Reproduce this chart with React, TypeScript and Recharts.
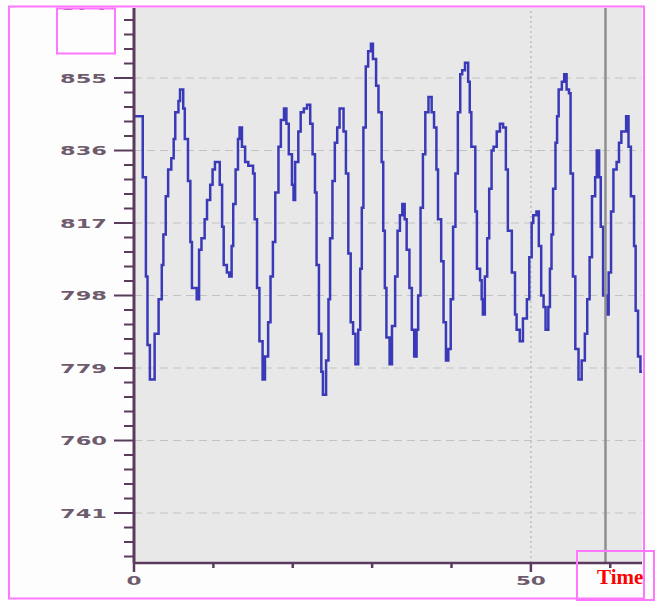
import React from "react";
import { LineChart, Line, XAxis, YAxis, CartesianGrid, ReferenceLine } from "recharts";

// sample times (x) and signal readings (y)
const time = [
  0, 1.1, 1.5, 1.7, 2.0, 2.6, 3.1, 3.5, 3.7, 4.0, 4.3, 4.7, 5.0, 5.2, 5.6, 5.8, 6.2, 6.4, 6.8, 7.1,
  7.3, 7.9, 8.2, 8.5, 8.9, 9.2, 9.6, 9.9, 10.2, 10.8, 11.1, 11.3, 11.7, 12.0, 12.3, 12.5, 12.8, 13.1, 13.3, 13.6,
  14.0, 14.4, 15.0, 15.2, 15.5, 15.8, 16.2, 16.5, 16.9, 17.2, 17.5, 17.8, 18.2, 18.5, 18.9, 19.2, 19.5, 19.9, 20.1, 20.3,
  20.7, 21.0, 21.4, 21.8, 22.2, 22.5, 22.8, 23.0, 23.3, 23.6, 23.8, 24.2, 24.5, 24.7, 25.0, 25.3, 25.6, 25.9, 26.4, 26.7,
  27.0, 27.3, 27.6, 27.9, 28.25, 28.5, 28.7, 28.9, 29.2, 29.5, 29.85, 30.1, 30.5, 30.8, 31.2, 31.4, 31.6, 31.8, 32.2, 32.5,
  32.9, 33.2, 33.5, 33.8, 34.1, 34.35, 34.7, 35.0, 35.3, 35.6, 35.8, 36.1, 36.4, 36.7, 37.1, 37.5, 37.8, 38.1, 38.3, 38.7,
  39.0, 39.3, 39.6, 39.9, 40.2, 40.5, 40.8, 41.1, 41.35, 41.7, 42.1, 42.3, 42.5, 43.0, 43.2, 43.6, 43.8, 43.95, 44.2, 44.5,
  44.75, 45.05, 45.3, 45.7, 46.1, 46.5, 46.85, 47.1, 47.6, 48.0, 48.2, 48.6, 49.0, 49.5, 49.8, 50.1, 50.3, 50.7, 51.0, 51.3,
  51.6, 51.85, 52.2, 52.4, 52.6, 52.8, 53.1, 53.3, 53.5, 53.9, 54.2, 54.5, 54.8, 55.0, 55.3, 55.6, 56.0, 56.4, 56.8, 57.1,
  57.4, 57.7, 58.1, 58.3, 58.6, 58.8, 59.1, 59.5, 59.8, 60.1, 60.4, 60.8, 61.1, 61.4, 62.0, 62.3, 62.6, 63.0, 63.2, 63.5,
  63.8, 64.0,
];

const signal = [
  845, 829, 803, 785, 776, 788, 797, 806, 814, 824, 831, 834, 839, 846, 849, 852, 847, 839, 828, 812,
  800, 797, 810, 813, 818, 823, 827, 831, 833, 827, 816, 806, 804, 803, 811, 822, 831, 839, 842, 837,
  833, 832, 830, 818, 800, 786, 776, 782, 791, 803, 812, 825, 837, 844, 847, 843, 835, 827, 823, 833,
  841, 846, 847, 848, 843, 835, 825, 806, 788, 778, 772, 781, 797, 813, 828, 838, 842, 847, 841, 830,
  809, 791, 788, 780, 789, 805, 821, 842, 858, 862, 864, 860, 853, 846, 833, 815, 800, 787, 780, 790,
  803, 815, 819, 822, 818, 810, 800, 789, 782, 789, 798, 821, 835, 846, 850, 846, 842, 831, 818, 807,
  791, 781, 784, 797, 816, 830, 846, 856, 857, 859, 854, 846, 837, 820, 805, 802, 797, 793, 803, 813,
  826, 836, 837, 841, 843, 842, 831, 815, 804, 793, 789, 786, 792, 797, 808, 817, 819, 820, 811, 798,
  795, 789, 795, 805, 814, 826, 838, 845, 852, 854, 856, 852, 851, 830, 803, 784, 776, 781, 788, 797,
  808, 824, 829, 836, 829, 816, 798, 793, 804, 820, 831, 833, 838, 841, 845, 837, 824, 811, 794, 782,
  778, 778,
];

const yMajorTicks = [741, 760, 779, 798, 817, 836, 855, 874];
const xTicks = [0, 10, 20, 30, 40, 50, 60];
const xLabelTicks = [0, 50];
const cursorTime = 59.4;

const Y_MIN = 727.9;
const Y_MAX = 874;

const data = time.map((t, i) => ({ t, v: signal[i] }));

// minor ticks: 5 per major step
const yTicks = [...yMajorTicks, 737.2, 733.4, 729.6]
  .flatMap((m) => (m > 741 ? [0, 1, 2, 3, 4].map((k) => +(m - k * 3.8).toFixed(1)) : [m]))
  .filter((v, i, arr) => arr.indexOf(v) === i && v >= Y_MIN);

const AXIS = "#5b3b5d";
const LABEL = "#6e5c6e";

function YTick(props: any) {
  const { x, y, payload } = props;
  const major = yMajorTicks.includes(payload.value);
  return (
    <g>
      <line x1={x - (major ? 20 : 10)} x2={x} y1={y} y2={y} stroke={AXIS} strokeWidth={2} />
      {major && (
        <text
          x={x - 74}
          y={y}
          dy={4.5}
          textLength={47}
          lengthAdjust="spacingAndGlyphs"
          fill={LABEL}
          fontSize={12.5}
          fontWeight="bold"
          fontFamily="DejaVu Sans"
        >
          {payload.value}
        </text>
      )}
    </g>
  );
}

function XTick(props: any) {
  const { x, y, payload } = props;
  const major = xLabelTicks.includes(payload.value);
  const label = String(payload.value);
  const w = label.length * 15;
  return (
    <g>
      <line x1={x} x2={x} y1={y} y2={y + (major ? 9 : 5)} stroke={AXIS} strokeWidth={2.5} />
      {major && (
        <text
          x={x - w / 2}
          y={y + 22}
          textLength={w}
          lengthAdjust="spacingAndGlyphs"
          fill={LABEL}
          fontSize={12}
          fontWeight="bold"
          fontFamily="DejaVu Sans"
        >
          {label}
        </text>
      )}
    </g>
  );
}

export default function App() {
  return (
    <div
      style={{
        position: "absolute",
        left: 0,
        top: 0,
        width: 655,
        height: 601,
        overflow: "hidden",
        background: "#fdfdfd",
      }}
    >
      <div style={{ position: "absolute", left: 0, top: 8, width: 655, height: 593, overflow: "hidden" }}>
        <div style={{ position: "absolute", left: 0, top: -8 }}>
          <LineChart width={655} height={601} data={data} margin={{ top: 5.5, right: 13, bottom: 8, left: 0 }}>
            <CartesianGrid
              fill="#e8e8e8"
              vertical={false}
              horizontalValues={yMajorTicks.filter((v) => v < Y_MAX)}
              stroke="#c2c2c2"
              strokeDasharray="8 5"
            />
            <ReferenceLine x={50} stroke="#bcbcbc" strokeWidth={1.5} strokeDasharray="2 3" />
            <XAxis
              dataKey="t"
              type="number"
              domain={[0, 64]}
              allowDataOverflow
              ticks={xTicks}
              interval={0}
              height={30}
              tickSize={0}
              tickMargin={0}
              tickLine={false}
              axisLine={{ stroke: AXIS, strokeWidth: 2.5 }}
              tick={<XTick />}
            />
            <YAxis
              type="number"
              domain={[Y_MIN, Y_MAX]}
              allowDataOverflow
              ticks={yTicks}
              interval={0}
              width={134}
              tickSize={0}
              tickMargin={0}
              tickLine={false}
              axisLine={{ stroke: AXIS, strokeWidth: 3 }}
              tick={<YTick />}
            />
            <Line
              type="stepAfter"
              dataKey="v"
              stroke="#3a3ab8"
              strokeWidth={2.5}
              dot={false}
              isAnimationActive={false}
            />
            <ReferenceLine x={cursorTime} stroke="#8f8f8f" strokeWidth={2.5} />
          </LineChart>
        </div>
      </div>
      <svg
        width={655}
        height={601}
        style={{ position: "absolute", left: 0, top: 0, pointerEvents: "none" }}
      >
        <rect x={9} y={6.5} width={635} height={592} fill="none" stroke="#ff77ff" strokeWidth={2} />
        <rect x={57} y={8.5} width={58} height={45} fill="none" stroke="#ff77ff" strokeWidth={2} />
        <rect x={577} y={551} width={77} height={49} fill="none" stroke="#ff77ff" strokeWidth={2} />
        <text x={597} y={584} fill="#ff0000" fontSize={21} fontWeight="bold" fontFamily="Liberation Serif">
          Time
        </text>
      </svg>
    </div>
  );
}
